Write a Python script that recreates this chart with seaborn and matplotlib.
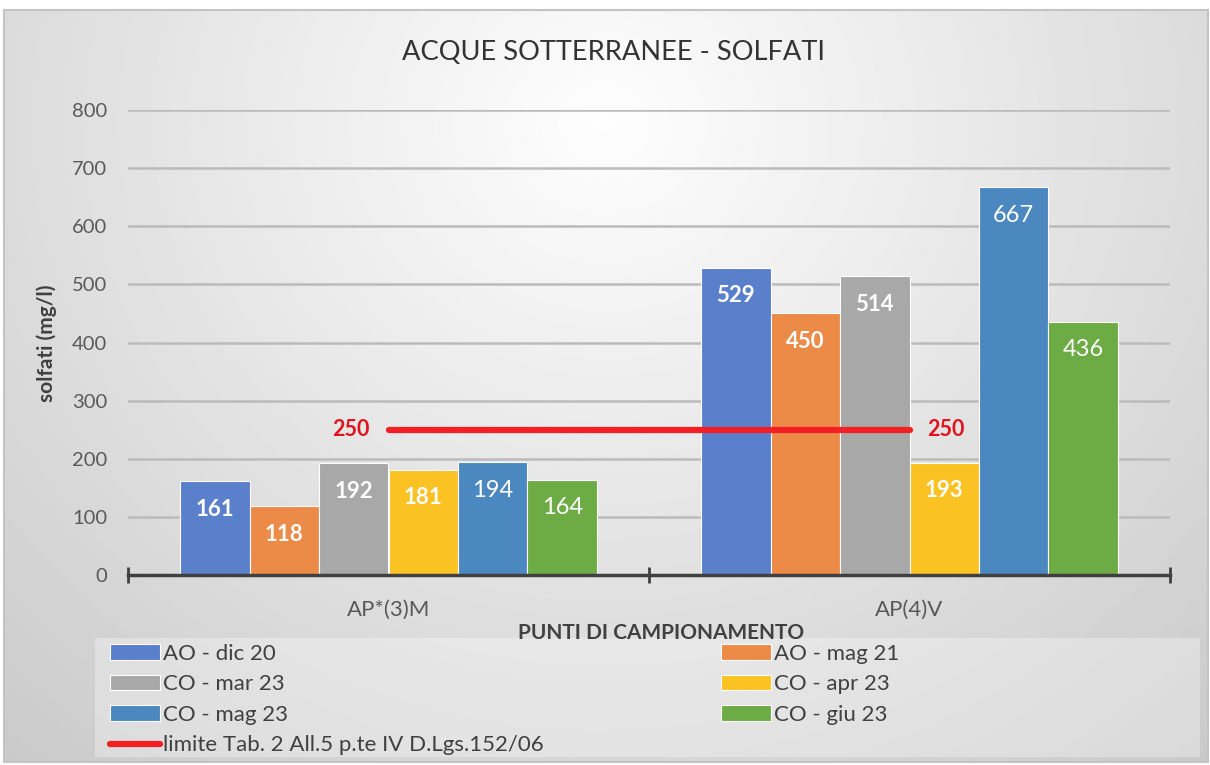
import numpy as np
import pandas as pd
import matplotlib
matplotlib.use("Agg")
import matplotlib.pyplot as plt
from matplotlib.patches import Rectangle
import seaborn as sns

# Data
points = ["AP*(3)M", "AP(4)V"]
series = ["AO - dic 20", "AO - mag 21", "CO - mar 23", "CO - apr 23", "CO - mag 23", "CO - giu 23"]
dic20 = [161, 529]
mag21 = [118, 450]
mar23 = [192, 514]
apr23 = [181, 193]
mag23 = [194, 667]
giu23 = [164, 436]
limite = [250, 250]
limite_label = "limite Tab. 2 All.5 p.te IV D.Lgs.152/06"
colors = ["#5A80CB", "#EC8A48", "#A8A8A8", "#FBC223", "#4B88BF", "#6DAB45"]

values = [dic20, mag21, mar23, apr23, mag23, giu23]
df = pd.DataFrame({
    "punto": points * len(series),
    "campagna": np.repeat(series, len(points)),
    "valore": np.concatenate(values),
})

sns.set_theme(style="white")
plt.rcParams["font.family"] = ["Lato", "DejaVu Sans"]

fig = plt.figure(figsize=(12.1, 7.65), dpi=100)
fig.patch.set_facecolor("white")

# gradient background of the chart area
bg = fig.add_axes([4 / 1210, 3 / 765, 1204 / 1210, 752 / 765], zorder=-5)
yy, xx = np.mgrid[0:1:300j, 0:1:500j]
r = np.sqrt(((xx - 0.5) / 0.75) ** 2 + ((yy - 0.85) / 1.1) ** 2)
bg.imshow(np.clip(0.995 - 0.2 * r, 0, 1), cmap="gray", vmin=0, vmax=1,
          extent=[0, 1, 0, 1], origin="lower", aspect="auto")
bg.set_xlim(0, 1)
bg.set_ylim(0, 1)
bg.axis("off")
fig.add_artist(Rectangle((4 / 1210, 3 / 765), 1204 / 1210, 752 / 765,
                         transform=fig.transFigure, fill=False,
                         edgecolor="#C4C4C4", lw=1.5, zorder=-4))

ax = fig.add_axes([128 / 1210, 1 - 575 / 765, 1042 / 1210, 465 / 765])
ax.set_facecolor("none")

sns.barplot(data=df, x="punto", y="valore", hue="campagna", palette=colors,
            saturation=1, width=0.8, edgecolor="white", linewidth=0.8,
            ax=ax, zorder=3)

# value labels inside the bar tops
for i, cont in enumerate(ax.containers):
    bold = i < 4
    for bar in cont:
        h = bar.get_height()
        ax.annotate(f"{h:.0f}", (bar.get_x() + bar.get_width() / 2, h),
                    xytext=(0, -20), textcoords="offset points",
                    ha="center", va="center", color="white",
                    fontsize=16 if bold else 17,
                    fontweight="bold" if bold else "normal", zorder=5)

# limit line
xpos = np.arange(len(points))
line, = ax.plot(xpos, limite, color="#F21F24", lw=4.5, solid_capstyle="round",
                zorder=4, label=limite_label)
ax.annotate(f"{limite[0]}", (xpos[0], limite[0]), xytext=(-14, 0),
            textcoords="offset points", ha="right", va="center",
            color="#E0141C", fontsize=15.5, fontweight="bold")
ax.annotate(f"{limite[-1]}", (xpos[-1], limite[-1]), xytext=(13, 0),
            textcoords="offset points", ha="left", va="center",
            color="#E0141C", fontsize=15.5, fontweight="bold")

ax.set_ylim(0, 800)
ax.set_xlim(-0.5, 1.5)
ax.set_yticks(range(0, 801, 100))
ax.yaxis.grid(True, color="#BBBBBB", lw=1.8, zorder=0)
ax.set_axisbelow(True)
for s in ["top", "right", "left"]:
    ax.spines[s].set_visible(False)
ax.spines["bottom"].set_color("#404040")
ax.spines["bottom"].set_linewidth(2.5)
ax.spines["bottom"].set_zorder(6)
ax.set_xticks([-0.5, 0.5, 1.5], minor=False)
ax.set_xticklabels([])
ax.set_xticks(xpos, minor=True)
ax.set_xticklabels(points, minor=True)
ax.tick_params(axis="x", which="major", direction="inout", length=11, width=2,
               color="#404040", bottom=True)
ax.tick_params(axis="x", which="minor", length=0, pad=18, labelsize=16,
               labelcolor="#595959")
ax.tick_params(axis="y", length=0, pad=15, labelsize=14.5, labelcolor="#595959")
ax.set_xlabel("")
ax.set_ylabel("")
ax.get_legend().remove()

fig.text(614 / 1210, 1 - 52 / 765, "ACQUE SOTTERRANEE - SOLFATI", ha="center",
         va="center", fontsize=19.6, color="#333333")
fig.text(47 / 1210, 1 - 343 / 765, "solfati (mg/l)", ha="center", va="center",
         rotation=90, fontsize=15, fontweight="bold", color="#404040")
fig.text(661 / 1210, 1 - 633 / 765, "PUNTI DI CAMPIONAMENTO", ha="center",
         va="center", fontsize=15, fontweight="bold", color="#404040")

# legend
fig.add_artist(Rectangle((95 / 1210, 1 - 757 / 765), 1105 / 1210, 119 / 765,
                         transform=fig.transFigure, facecolor="white",
                         alpha=0.3, edgecolor="none", zorder=1))
bars = [c.patches[0] for c in ax.containers]
handles = [bars[0], bars[2], bars[4], line, bars[1], bars[3], bars[5]]
labels = [series[0], series[2], series[4], limite_label, series[1], series[3], series[5]]
fig.legend(handles, labels, ncol=2, loc="upper left",
           bbox_to_anchor=(110 / 1210, 1 - 644 / 765), frameon=False,
           fontsize=16, labelcolor="#404040", handlelength=2.25,
           handleheight=0.7, handletextpad=0.12, columnspacing=8,
           labelspacing=0.47, borderpad=0, borderaxespad=0)

fig.savefig("out.png", dpi=100)
